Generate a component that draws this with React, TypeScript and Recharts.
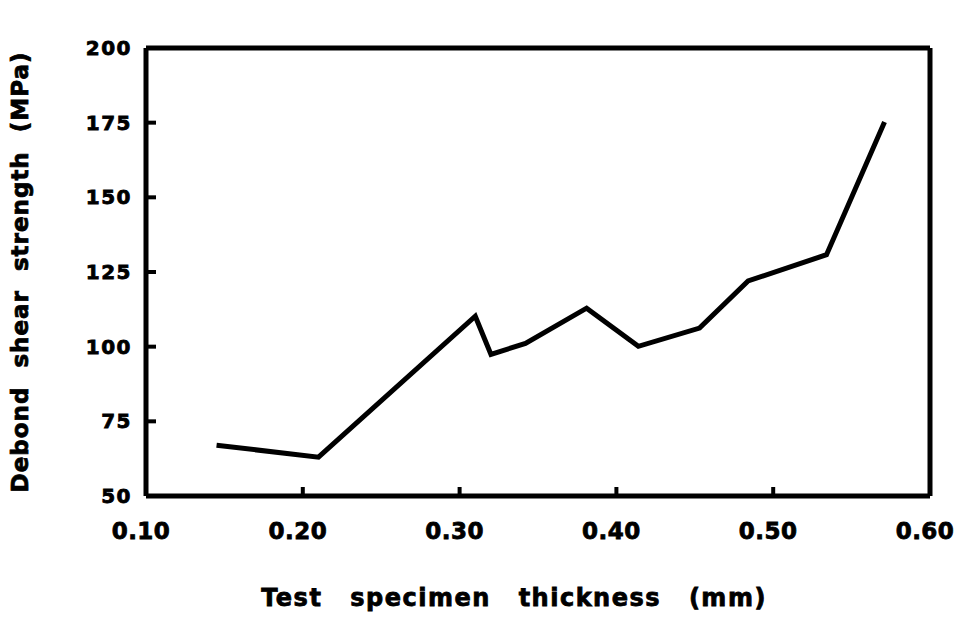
import React from "react";
import { LineChart, Line, XAxis, YAxis, ReferenceLine, Label } from "recharts";

// Test specimen thickness (mm)
const thickness = [0.145, 0.21, 0.31, 0.32, 0.342, 0.381, 0.414, 0.453, 0.484, 0.534, 0.571];
// Debond shear strength (MPa)
const strength = [67, 63, 110.2, 97.4, 101.1, 112.9, 100.1, 106.2, 122, 130.8, 175.2];

const xTicks = [0.1, 0.2, 0.3, 0.4, 0.5, 0.6];
const yTicks = [50, 75, 100, 125, 150, 175, 200];

const data = thickness.map((t, i) => ({ t, s: strength[i] }));

const FONT = "'DejaVu Sans', 'Liberation Sans', sans-serif";
const INK = "#000";

const XTick = (props: any) => {
  const { x, y, payload } = props;
  const edge = payload.value === xTicks[0] || payload.value === xTicks[xTicks.length - 1];
  return (
    <g>
      {!edge && <line x1={x} y1={y} x2={x} y2={y - 9} stroke={INK} strokeWidth={4} />}
      <text
        x={x - 5}
        y={y + 43}
        textAnchor="middle"
        fontFamily={FONT}
        fontWeight="bold"
        fontSize={23}
        letterSpacing={0.5}
        stroke={INK}
        strokeWidth={0.8}
        fill={INK}
      >
        {payload.value.toFixed(2)}
      </text>
    </g>
  );
};

const YTick = (props: any) => {
  const { x, y, payload } = props;
  const edge = payload.value === yTicks[0] || payload.value === yTicks[yTicks.length - 1];
  return (
    <g>
      {!edge && <line x1={x} y1={y} x2={x + 10} y2={y} stroke={INK} strokeWidth={4} />}
      <text
        x={x - 14}
        y={y + 7}
        textAnchor="end"
        fontFamily={FONT}
        fontWeight="bold"
        fontSize={20}
        letterSpacing={1.5}
        stroke={INK}
        strokeWidth={0.8}
        fill={INK}
      >
        {payload.value}
      </text>
    </g>
  );
};

export default function App() {
  return (
    <div style={{ position: "absolute", left: 0, top: 0, background: "#fff" }}>
      <LineChart
        width={961}
        height={617}
        data={data}
        margin={{ top: 48, right: 31, bottom: 0, left: 0 }}
      >
        <XAxis
          dataKey="t"
          type="number"
          domain={[0.1, 0.6]}
          ticks={xTicks}
          interval={0}
          height={121}
          tickSize={0}
          tickMargin={0}
          tickLine={false}
          axisLine={{ stroke: INK, strokeWidth: 5 }}
          tick={<XTick />}
        >
          <Label
            value="Test specimen thickness (mm)"
            position="insideBottom"
            offset={11}
            dx={-24}
            style={{
              fontFamily: FONT,
              fontWeight: "bold",
              fontSize: 24,
              letterSpacing: 1.5,
              wordSpacing: 18,
              stroke: INK,
              strokeWidth: 0.8,
              fill: INK,
            }}
          />
        </XAxis>
        <YAxis
          dataKey="s"
          type="number"
          domain={[50, 200]}
          ticks={yTicks}
          interval={0}
          width={146}
          tickSize={0}
          tickMargin={0}
          tickLine={false}
          axisLine={{ stroke: INK, strokeWidth: 5 }}
          tick={<YTick />}
        >
          <Label
            value="Debond shear strength (MPa)"
            angle={-90}
            position="insideLeft"
            offset={20}
            style={{
              fontFamily: FONT,
              fontWeight: "bold",
              fontSize: 23,
              letterSpacing: 1,
              wordSpacing: 10,
              stroke: INK,
              strokeWidth: 0.8,
              fill: INK,
              textAnchor: "middle",
            }}
          />
        </YAxis>
        <ReferenceLine y={200} stroke={INK} strokeWidth={5} />
        <ReferenceLine x={0.6} stroke={INK} strokeWidth={5} />
        <Line
          type="linear"
          dataKey="s"
          stroke={INK}
          strokeWidth={5}
          strokeLinejoin="miter"
          dot={false}
          isAnimationActive={false}
        />
      </LineChart>
    </div>
  );
}
